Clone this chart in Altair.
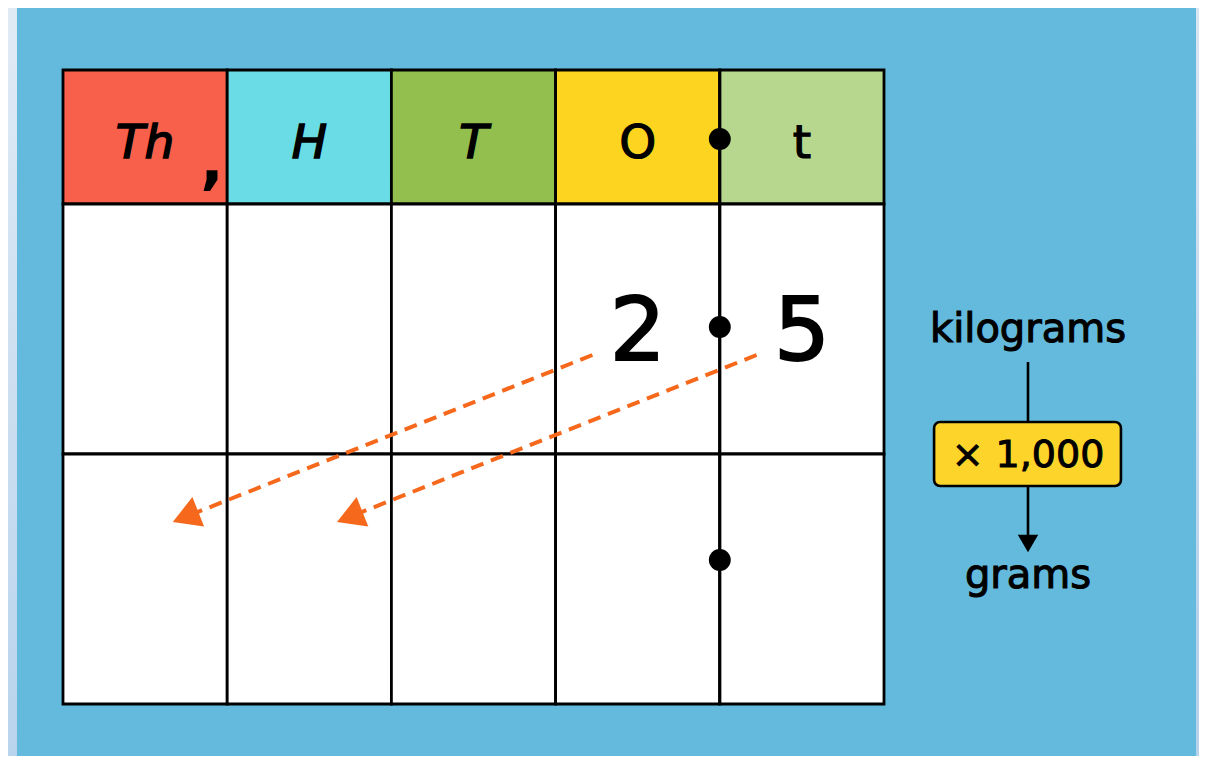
import altair as alt
import pandas as pd
import numpy as np

# ---------------- data ----------------
columns = ["Th", "H", "T", "O", "t"]
column_colors = ["#f8604b", "#69dce5", "#93bf4f", "#fdd41f", "#b7d78f"]
italic_flags = [True, True, True, False, False]
body_rows = [0, 1]
digits = ["2", "5"]
digit_columns = [3, 4]      # ones and tenths
target_columns = [0, 1]     # thousands and hundreds after x 1,000
decimal_column_edge = 4
dot_rows = ["header", 0, 1]
conversion_top = "kilograms"
conversion_label = "× 1,000"
conversion_bottom = "grams"

# ---------------- layout ----------------
W, H = 1191, 748
PAGE = 8
TABLE_LEFT_PX, COL_W = 63, 164.2
BODY_TOP_PX, ROW_H = 204, 250
HEADER_TOP = -0.536
BLACK = "#000000"
ORANGE = "#f6681c"
FONT = "DejaVu Sans"

xs = alt.Scale(domain=[(PAGE - TABLE_LEFT_PX) / COL_W, (PAGE + W - TABLE_LEFT_PX) / COL_W], nice=False, zero=False)
ys = alt.Scale(domain=[(PAGE - BODY_TOP_PX) / ROW_H, (PAGE + H - BODY_TOP_PX) / ROW_H], nice=False, zero=False, reverse=True)


def X(f):
    return alt.X(f, type="quantitative", scale=xs, axis=None)


def Y(f):
    return alt.Y(f, type="quantitative", scale=ys, axis=None)


def X2(f):
    return alt.X2(f)


def Y2(f):
    return alt.Y2(f)


one = pd.DataFrame({"a": [0]})

# background gradient and blue panel
bg = alt.Chart(one).mark_rect(
    color=alt.Gradient(gradient="linear", stops=[alt.GradientStop(color="#e0eaf5", offset=0),
                                                  alt.GradientStop(color="#b7d3ec", offset=1)],
                       x1=0, x2=0.2, y1=0, y2=1)
).encode(x=alt.value(0), x2=alt.value(W), y=alt.value(0), y2=alt.value(H))

panel = alt.Chart(one).mark_rect(color="#63badd").encode(
    x=alt.value(17 - PAGE), x2=alt.value(1196 - PAGE), y=alt.value(0), y2=alt.value(H))

# table cells
cells = []
for i, (c, col) in enumerate(zip(columns, column_colors)):
    cells.append({"x": i, "x2": i + 1, "y": HEADER_TOP, "y2": 0, "fill": col})
    for r in body_rows:
        cells.append({"x": i, "x2": i + 1, "y": r, "y2": r + 1, "fill": "#ffffff"})
cells_df = pd.DataFrame(cells)

table_box = pd.DataFrame({"x": [0], "x2": [len(columns)], "y": [HEADER_TOP], "y2": [len(body_rows)]})
shadow = alt.Chart(table_box).mark_rect(color="#3f8cb3", opacity=0.55, xOffset=4, yOffset=6).encode(
    x=X("x"), x2=X2("x2"), y=Y("y"), y2=Y2("y2"))

cell_layer = alt.Chart(cells_df).mark_rect(stroke=BLACK, strokeWidth=2.8).encode(
    x=X("x"), x2=X2("x2"), y=Y("y"), y2=Y2("y2"),
    fill=alt.Fill("fill:N", scale=None))

# decimal line and dots
dec_df = pd.DataFrame({"x": [decimal_column_edge], "y": [HEADER_TOP], "y2": [len(body_rows)]})
dec_line = alt.Chart(dec_df).mark_rule(color=BLACK, strokeWidth=2.8).encode(
    x=X("x"), y=Y("y"), y2=Y2("y2"))

dot_y = {"header": -0.26, 0: 0.492, 1: 1.424}
dots_df = pd.DataFrame({"x": [decimal_column_edge] * len(dot_rows), "y": [dot_y[r] for r in dot_rows]})
dots = alt.Chart(dots_df).mark_point(shape="circle", filled=True, opacity=1, color=BLACK, size=480).encode(
    x=X("x"), y=Y("y"))

# header labels
hdr_df = pd.DataFrame({"x": [i + 0.5 for i in range(len(columns))], "y": [-0.184] * len(columns),
                       "label": columns, "italic": italic_flags})
hdr_italic = alt.Chart(hdr_df[hdr_df["italic"]]).mark_text(
    font=FONT, fontSize=47, fontStyle="italic", fontWeight="normal", baseline="alphabetic", align="center",
    color=BLACK, stroke=BLACK, strokeWidth=1.6).encode(x=X("x"), y=Y("y"), text="label:N")
hdr_upright = alt.Chart(hdr_df[~hdr_df["italic"]]).mark_text(
    font=FONT, fontSize=47, fontWeight="normal", baseline="alphabetic", align="center",
    color=BLACK, stroke=BLACK, strokeWidth=1.2).encode(x=X("x"), y=Y("y"), text="label:N")

comma_df = pd.DataFrame({"x": [0.907], "y": [-0.09], "t": [","]})
comma = alt.Chart(comma_df).mark_text(font=FONT, fontSize=62, fontWeight="bold", baseline="alphabetic",
                                      align="center", color=BLACK).encode(x=X("x"), y=Y("y"), text="t:N")

# digits
dig_df = pd.DataFrame({"x": [c + 0.5 for c in digit_columns], "y": [0.624] * len(digits), "d": digits})
dig = alt.Chart(dig_df).mark_text(font=FONT, fontSize=88, baseline="alphabetic", align="center",
                                  color=BLACK, stroke=BLACK, strokeWidth=2).encode(x=X("x"), y=Y("y"), text="d:N")

# dashed arrows
rows = []
heads = []
for dc, tc in zip(digit_columns, target_columns):
    sx, sy = dc + 0.5 - 0.276, 0.604
    tx, ty = tc + 0.667, 1.272
    dxp, dyp = (tx - sx) * COL_W, (ty - sy) * ROW_H
    L = np.hypot(dxp, dyp)
    ux, uy = dxp / L, dyp / L
    back = 14.0
    cx, cy = tx - ux * back / COL_W, ty - uy * back / ROW_H
    ang = (np.degrees(np.arctan2(ux, -uy)) + 360) % 360
    rows.append({"x": sx, "y": sy, "x2": cx, "y2": cy})
    heads.append({"x": cx, "y": cy, "angle": ang})
arr_df = pd.DataFrame(rows)
head_df = pd.DataFrame(heads)
arr_lines = alt.Chart(arr_df).mark_rule(color=ORANGE, strokeWidth=4, strokeDash=[13, 8]).encode(
    x=X("x"), y=Y("y"), x2=X2("x2"), y2=Y2("y2"))
arr_heads = alt.Chart(head_df).mark_point(shape="triangle-up", filled=True, opacity=1, color=ORANGE,
                                          size=1000).encode(
    x=X("x"), y=Y("y"), angle=alt.Angle("angle:Q", scale=None))

# conversion annotation
ux_r = 5.877
top_df = pd.DataFrame({"x": [ux_r], "y": [0.552], "t": [conversion_top]})
top_txt = alt.Chart(top_df).mark_text(font=FONT, fontSize=40, baseline="alphabetic", align="center",
                                      color=BLACK, stroke=BLACK, strokeWidth=1.1).encode(x=X("x"), y=Y("y"), text="t:N")
bot_df = pd.DataFrame({"x": [ux_r], "y": [1.536], "t": [conversion_bottom]})
bot_txt = alt.Chart(bot_df).mark_text(font=FONT, fontSize=40, baseline="alphabetic", align="center",
                                      color=BLACK, stroke=BLACK, strokeWidth=1.1).encode(x=X("x"), y=Y("y"), text="t:N")

conn_df = pd.DataFrame({"x": [ux_r, ux_r], "y": [0.632, 1.128], "y2": [0.872, 1.35]})
conn = alt.Chart(conn_df).mark_rule(color=BLACK, strokeWidth=2.6).encode(x=X("x"), y=Y("y"), y2=Y2("y2"))
down_df = pd.DataFrame({"x": [ux_r], "y": [1.358]})
down = alt.Chart(down_df).mark_point(shape="triangle-down", filled=True, opacity=1, color=BLACK,
                                      size=420).encode(x=X("x"), y=Y("y"))

box_df = pd.DataFrame({"x": [5.305], "x2": [6.443], "y": [0.872], "y2": [1.128]})
box_shadow = alt.Chart(box_df).mark_rect(color="#3f8cb3", opacity=0.6, cornerRadius=6, xOffset=3,
                                         yOffset=4).encode(x=X("x"), x2=X2("x2"), y=Y("y"), y2=Y2("y2"))
box = alt.Chart(box_df).mark_rect(color="#fdd52a", stroke=BLACK, strokeWidth=2.6, cornerRadius=6).encode(
    x=X("x"), x2=X2("x2"), y=Y("y"), y2=Y2("y2"))
lab_df = pd.DataFrame({"x": [ux_r], "y": [1.052], "t": [conversion_label]})
lab = alt.Chart(lab_df).mark_text(font=FONT, fontSize=38, baseline="alphabetic", align="center",
                                  color=BLACK, stroke=BLACK, strokeWidth=1.0).encode(x=X("x"), y=Y("y"), text="t:N")

chart = alt.layer(
    bg, panel, shadow, cell_layer, dec_line, dots, hdr_italic, hdr_upright, comma, dig,
    arr_lines, arr_heads, top_txt, conn, down, box_shadow, box, lab, bot_txt
).properties(
    width=W, height=H, padding=0, autosize=alt.AutoSizeParams(type="none")
).configure_view(stroke=None)

chart.save("out.html", embed_options={"renderer": "svg", "actions": False})
